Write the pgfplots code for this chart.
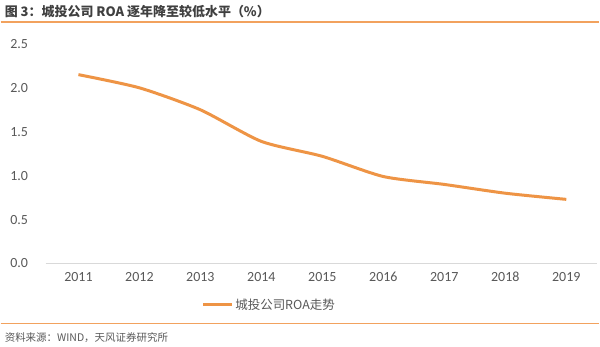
\documentclass[border=0pt]{standalone}
\usepackage{fontspec}
\usepackage{pgfplots}
\pgfplotsset{compat=1.18}
\setmainfont{Carlito}
\newfontfamily\cjk{Noto Sans CJK SC}
\definecolor{lineorange}{HTML}{EE9445}
\definecolor{rule}{HTML}{F2A25E}
\definecolor{txt}{HTML}{595959}
\definecolor{ttl}{HTML}{404040}
\definecolor{axgray}{HTML}{D9D9D9}
\begin{document}
\begin{tikzpicture}[x=1pt,y=1pt]
\path[fill=white] (0,0) rectangle (600,-347);
% title
\node[anchor=base west, inner sep=0pt, text=ttl, font={\cjk\bfseries\fontsize{13}{15}\selectfont}] at (4,-17) {图 3：城投公司 ROA 逐年降至较低水平（\%）};
\draw[rule, line width=1.2pt] (0,-22) -- (600,-22);
\draw[rule, line width=1.2pt] (0,-324) -- (600,-324);
\node[anchor=base west, inner sep=0pt, text=txt, font={\cjk\fontsize{10.5}{12}\selectfont}] at (4,-342) {资料来源：WIND，天风证券研究所};
\begin{axis}[
  at={(45pt,-264pt)}, anchor=origin,
  scale only axis, width=553pt, height=220pt,
  xmin=2010.46, xmax=2019.51, ymin=0, ymax=2.5,
  axis x line*=bottom, axis y line=none,
  x axis line style={axgray, line width=1pt, -},
  xtick={2011,...,2019}, ytick={0,0.5,...,2.5},
  major tick length=0pt,
  xticklabel style={/pgf/number format/1000 sep={}, text=txt, font=\fontsize{14}{16}\selectfont, yshift=-5pt},
  /pgf/number format/assume math mode=true,
  clip=false,
]
\addplot[lineorange, line width=3pt, smooth, tension=0.4] coordinates {
(2011,2.15) (2012,2.00) (2013,1.75) (2014,1.39) (2015,1.22) (2016,0.99) (2017,0.90) (2018,0.80) (2019,0.73)};
\pgfplotsinvokeforeach{0,0.5,1,1.5,2,2.5}{
  \node[anchor=east, text=txt, font=\fontsize{14}{16}\selectfont] at (axis cs:2010.46,#1) [xshift=-14pt] {\pgfmathprintnumber[fixed,fixed zerofill,precision=1]{#1}};
}
\end{axis}
% legend
\draw[lineorange, line width=3.2pt] (203,-305) -- (232,-305);
\node[anchor=west, inner sep=0pt, text=txt, font={\cjk\fontsize{12.5}{14}\selectfont}] at (235,-305) {城投公司ROA走势};
\end{tikzpicture}
\end{document}
